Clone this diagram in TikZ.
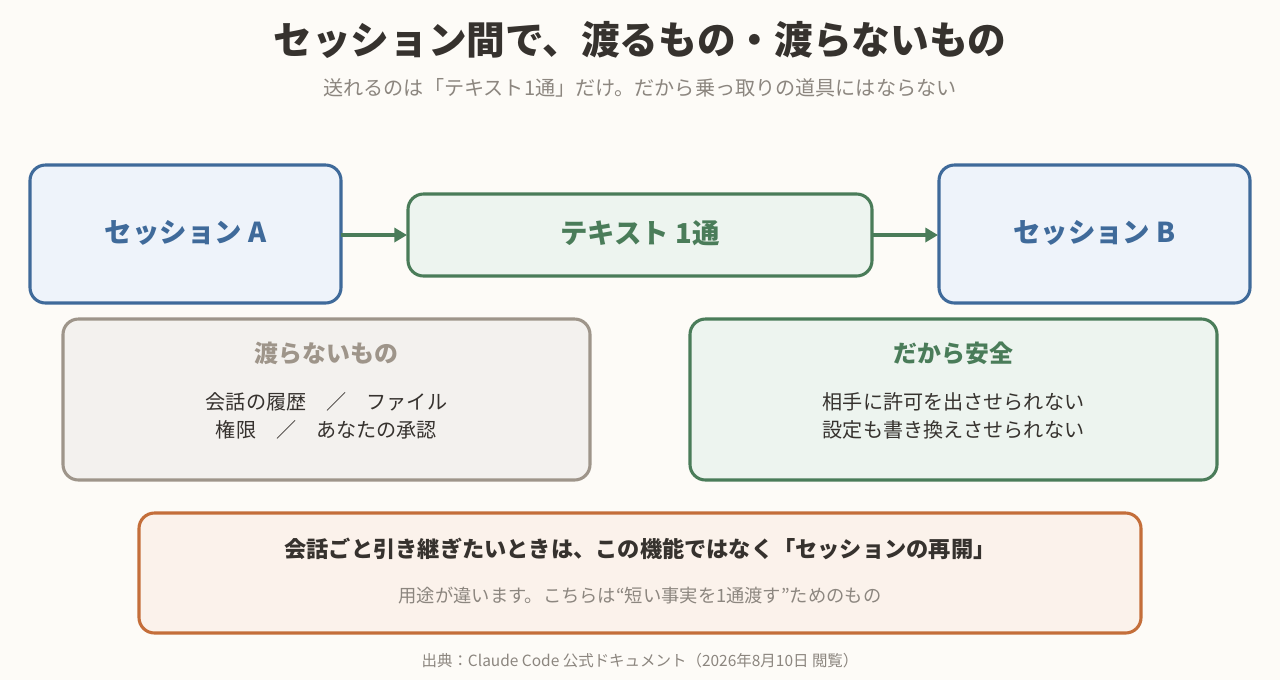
\documentclass[tikz,border=0pt]{standalone}
\usepackage{fontspec}
\setmainfont{Noto Sans CJK JP}
\usetikzlibrary{arrows.meta, positioning}
\definecolor{bgcream}{HTML}{FDFBF7}
\definecolor{inkdark}{HTML}{36322E}
\definecolor{inkgray}{HTML}{8C867F}
\definecolor{sessblue}{HTML}{3F6A9A}
\definecolor{sessbluefill}{HTML}{EEF3FA}
\definecolor{msggreen}{HTML}{4A7C59}
\definecolor{msggreenfill}{HTML}{EDF4EF}
\definecolor{notgray}{HTML}{9E958A}
\definecolor{notgrayfill}{HTML}{F3F1EE}
\definecolor{hintorange}{HTML}{C46E3A}
\definecolor{hintorangefill}{HTML}{FBF2EB}

\tikzset{
  box/.style={line width=2.2pt, rounded corners=11pt},
  flow/.style={line width=2.2pt, msggreen, -{Triangle[length=9pt,width=10pt]}},
  fs/.style={font=\fontsize{#1}{#1}\selectfont}
}

\begin{document}
\begin{tikzpicture}[x=0.025cm, y=-0.025cm]
    % canvas
    \fill[bgcream] (0,0) rectangle (1280,680);
    \useasboundingbox (0,0) rectangle (1280,680);

    % title
    \node[inkdark, font=\fontsize{27.5pt}{27.5pt}\selectfont\bfseries] (title) at (640,40) {セッション間で、渡るもの・渡らないもの};
    \node[inkgray, fs=14.3pt] (subtitle) at (640,88) {送れるのは「テキスト1通」だけ。だから乗っ取りの道具にはならない};

    % sessions and message
    \draw[box, sessblue, fill=sessbluefill] (30,165) rectangle (341,303);
    \node[sessblue, font=\fontsize{19.5pt}{19.5pt}\selectfont\bfseries] (sessA) at (185.5,233) {セッション A};
    \draw[box, msggreen, fill=msggreenfill] (408,194) rectangle (872,276);
    \node[msggreen, font=\fontsize{19.5pt}{19.5pt}\selectfont\bfseries] (msg) at (640,233) {テキスト 1通};
    \draw[box, sessblue, fill=sessbluefill] (939,165) rectangle (1250,303);
    \node[sessblue, font=\fontsize{19.5pt}{19.5pt}\selectfont\bfseries] (sessB) at (1094.5,233) {セッション B};
    \coordinate (aR) at (341,235);
    \coordinate (mL) at (407,235);
    \coordinate (mR) at (872,235);
    \coordinate (bL) at (938,235);
    \draw[flow] (aR) -- (mL);
    \draw[flow] (mR) -- (bL);

    % not passed
    \draw[box, notgray, fill=notgrayfill] (63,319) rectangle (590,480);
    \node[notgray, font=\fontsize{17pt}{17pt}\selectfont\bfseries] (notTitle) at (326.5,353) {渡らないもの};
    \node[inkdark, fs=14.3pt, align=center] (notList) at (326.5,416)
        {会話の履歴\quad ／\quad ファイル\\[6pt]権限\quad ／\quad あなたの承認};

    % so safe
    \draw[box, msggreen, fill=msggreenfill] (690,319) rectangle (1217,480);
    \node[msggreen, font=\fontsize{17pt}{17pt}\selectfont\bfseries] (safeTitle) at (953.5,353) {だから安全};
    \node[inkdark, fs=14.3pt, align=center] (safeList) at (953.5,416)
        {相手に許可を出させられない\\[6pt]設定も書き換えさせられない};

    % hint
    \draw[box, hintorange, fill=hintorangefill] (139,513) rectangle (1141,633);
    \node[inkdark, font=\fontsize{15.8pt}{15.8pt}\selectfont\bfseries] (hint) at (640,549) {会話ごと引き継ぎたいときは、この機能ではなく「セッションの再開」};
    \node[inkgray, fs=13pt] (hintSub) at (640,596) {用途が違います。こちらは“短い事実を1通渡す”ためのもの};

    % source
    \node[inkgray, fs=11pt] (source) at (640,661) {出典：Claude Code 公式ドキュメント（2026年8月10日 閲覧）};
\end{tikzpicture}
\end{document}
